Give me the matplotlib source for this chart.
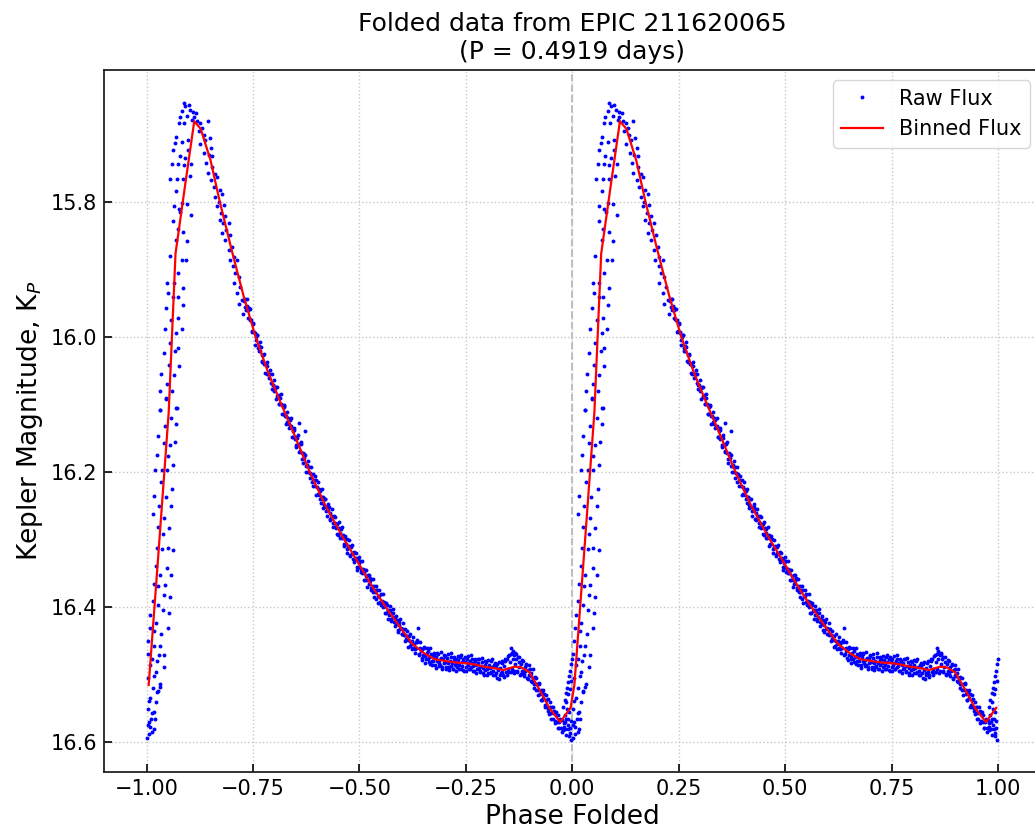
import numpy as np
import matplotlib
matplotlib.use("Agg")
import matplotlib.pyplot as plt

# ---------------- data (phase in [0, 1), Kepler magnitude) ----------------
# rising branch near phase 0
rise_points = [
    (0.0455, 16.091), (0.0306, 16.108), (0.0698, 16.105), (0.0573, 16.121), (0.0424, 16.132),
    (0.0690, 16.130), (0.0259, 16.147), (0.0400, 16.157), (0.0541, 16.161), (0.0659, 16.156),
    (0.0235, 16.175), (0.0494, 16.177), (0.0620, 16.190), (0.0204, 16.198), (0.0361, 16.198),
    (0.0478, 16.197), (0.0329, 16.215), (0.0596, 16.226), (0.0165, 16.236), (0.0447, 16.238),
    (0.0282, 16.251), (0.0573, 16.251), (0.0141, 16.263), (0.0416, 16.268), (0.0259, 16.282),
    (0.0525, 16.284), (0.0384, 16.293), (0.0235, 16.313), (0.0361, 16.315), (0.0494, 16.313),
    (0.0620, 16.316), (0.0212, 16.340), (0.0478, 16.343), (0.0306, 16.353), (0.0573, 16.353),
    (0.0165, 16.366), (0.0424, 16.368), (0.0275, 16.370), (0.0400, 16.383), (0.0541, 16.385),
    (0.0141, 16.392), (0.0259, 16.398), (0.0376, 16.405), (0.0518, 16.409), (0.0086, 16.413),
    (0.0212, 16.424), (0.0180, 16.436), (0.0337, 16.440), (0.0071, 16.432), (0.0494, 16.431),
    (0.0039, 16.451), (0.0173, 16.459), (0.0306, 16.458), (0.0024, 16.470), (0.0282, 16.471),
    (0.0416, 16.471), (0.0125, 16.477), (0.0235, 16.481), (0.0086, 16.486), (0.0400, 16.489),
    (0.0212, 16.497), (0.0039, 16.506), (0.0180, 16.503), (0.0322, 16.515), (0.0141, 16.520),
    (0.0306, 16.519), (0.0259, 16.525), (0.0243, 16.527), (0.0086, 16.535), (0.0047, 16.540),
    (0.0212, 16.542), (0.0024, 16.552), (0.0165, 16.556), (0.0125, 16.558), (0.0188, 16.566),
    (0.0102, 16.566), (0.0047, 16.571), (0.0024, 16.576), (0.0071, 16.578), (0.0165, 16.582),
    (0.0125, 16.585), (0.0063, 16.588), (0.0008, 16.595),
]

# maximum light region
peak_points = [
    (0.0306, 16.108), (0.0455, 16.092), (0.0714, 16.105), (0.0322, 16.080), (0.0478, 16.070),
    (0.0596, 16.080), (0.0635, 16.057), (0.0337, 16.055), (0.0518, 16.042), (0.0753, 16.044),
    (0.0400, 16.025), (0.0675, 16.021), (0.0541, 16.010), (0.0737, 16.017), (0.0424, 15.989),
    (0.0827, 15.989), (0.0698, 15.995), (0.0573, 15.976), (0.0729, 15.973), (0.0455, 15.958),
    (0.0847, 15.953), (0.0620, 15.942), (0.0729, 15.942), (0.0502, 15.936), (0.0478, 15.921),
    (0.0635, 15.921), (0.0863, 15.928), (0.0737, 15.906), (0.0933, 15.886), (0.0824, 15.887),
    (0.0541, 15.881), (0.0698, 15.857), (0.0867, 15.845), (0.0957, 15.858), (0.0729, 15.841),
    (0.0620, 15.828), (0.1043, 15.820), (0.0792, 15.816), (0.0949, 15.803), (0.0635, 15.806),
    (0.0753, 15.811), (0.0831, 15.802), (0.0690, 15.784), (0.0855, 15.767), (0.0557, 15.767),
    (0.0714, 15.767), (0.1012, 15.762), (0.0871, 15.746), (0.0596, 15.744), (0.0737, 15.744),
    (0.1043, 15.744), (0.0776, 15.732), (0.0910, 15.736), (0.0620, 15.724), (0.0973, 15.724),
    (0.0831, 15.711), (0.0675, 15.713), (0.0698, 15.704), (0.0973, 15.709), (0.0753, 15.684),
    (0.0886, 15.683), (0.0949, 15.673), (0.0776, 15.675), (0.0831, 15.665), (0.0871, 15.654),
    (0.0910, 15.659), (0.0988, 15.657), (0.1027, 15.664), (0.1090, 15.667), (0.1106, 15.674),
    (0.1169, 15.669), (0.1067, 15.679), (0.1184, 15.681), (0.1263, 15.684), (0.1302, 15.691),
    (0.1435, 15.681), (0.1224, 15.696), (0.1341, 15.701), (0.1380, 15.709), (0.1482, 15.706),
    (0.1263, 15.714), (0.1514, 15.721), (0.1357, 15.728), (0.1459, 15.731), (0.1538, 15.733),
    (0.1404, 15.743), (0.1537, 15.748), (0.1435, 15.758), (0.1616, 15.759), (0.1655, 15.763),
    (0.1514, 15.768), (0.1576, 15.778), (0.1718, 15.783), (0.1773, 15.788), (0.1616, 15.793),
    (0.1694, 15.800), (0.1812, 15.805), (0.1655, 15.807), (0.1749, 15.817), (0.1851, 15.821),
    (0.1718, 15.827), (0.1796, 15.832), (0.1929, 15.832), (0.1875, 15.842), (0.1773, 15.847),
    (0.1969, 15.850), (0.1851, 15.857), (0.2008, 15.867), (0.1929, 15.872), (0.2047, 15.882),
    (0.1953, 15.887), (0.2126, 15.887), (0.2031, 15.896), (0.2086, 15.906), (0.2165, 15.911),
    (0.2047, 15.921), (0.2204, 15.926), (0.2126, 15.936), (0.2243, 15.946), (0.2165, 15.951),
    (0.2267, 15.966),
]

# declining branch
decline_points = [
    (0.230, 15.947), (0.232, 15.944), (0.234, 15.960), (0.236, 15.955), (0.238, 15.961),
    (0.240, 15.958), (0.242, 15.974), (0.244, 15.975), (0.246, 15.975), (0.248, 15.992),
    (0.250, 15.981), (0.252, 15.993), (0.254, 15.995), (0.256, 16.005), (0.258, 16.001),
    (0.260, 15.998), (0.262, 16.017), (0.264, 16.014), (0.266, 16.021), (0.268, 16.015),
    (0.270, 16.036), (0.272, 16.027), (0.274, 16.027), (0.276, 16.040), (0.278, 16.040),
    (0.280, 16.040), (0.282, 16.055), (0.284, 16.044), (0.286, 16.056), (0.288, 16.056),
    (0.290, 16.056), (0.292, 16.069), (0.294, 16.056), (0.296, 16.072), (0.298, 16.072),
    (0.300, 16.080), (0.302, 16.076), (0.304, 16.074), (0.306, 16.088), (0.308, 16.089),
    (0.310, 16.087), (0.312, 16.100), (0.314, 16.091), (0.316, 16.100), (0.318, 16.101),
    (0.320, 16.114), (0.322, 16.104), (0.324, 16.103), (0.326, 16.117), (0.328, 16.117),
    (0.330, 16.126), (0.332, 16.121), (0.334, 16.130), (0.336, 16.123), (0.338, 16.134),
    (0.340, 16.132), (0.342, 16.148), (0.344, 16.140), (0.346, 16.139), (0.348, 16.152),
    (0.350, 16.148), (0.352, 16.160), (0.354, 16.150), (0.356, 16.160), (0.358, 16.159),
    (0.360, 16.169), (0.362, 16.159), (0.364, 16.173), (0.366, 16.182), (0.368, 16.173),
    (0.370, 16.180), (0.372, 16.176), (0.374, 16.191), (0.376, 16.192), (0.378, 16.190),
    (0.380, 16.201), (0.382, 16.193), (0.384, 16.202), (0.386, 16.203), (0.388, 16.216),
    (0.390, 16.203), (0.392, 16.214), (0.394, 16.212), (0.396, 16.221), (0.398, 16.212),
    (0.400, 16.223), (0.402, 16.233), (0.404, 16.226), (0.406, 16.234), (0.408, 16.229),
    (0.410, 16.247), (0.412, 16.238), (0.414, 16.238), (0.416, 16.250), (0.418, 16.240),
    (0.420, 16.252), (0.422, 16.258), (0.424, 16.252), (0.426, 16.257), (0.428, 16.253),
    (0.430, 16.270), (0.432, 16.262), (0.434, 16.269), (0.436, 16.265), (0.438, 16.276),
    (0.440, 16.265), (0.442, 16.276), (0.444, 16.284), (0.446, 16.279), (0.448, 16.277),
    (0.450, 16.294), (0.452, 16.284), (0.454, 16.291), (0.456, 16.285), (0.458, 16.298),
    (0.460, 16.296), (0.462, 16.294), (0.464, 16.307), (0.466, 16.300), (0.468, 16.307),
    (0.470, 16.300), (0.472, 16.314), (0.474, 16.312), (0.476, 16.310), (0.478, 16.323),
    (0.480, 16.312), (0.482, 16.321), (0.484, 16.320), (0.486, 16.329), (0.488, 16.319),
    (0.490, 16.331), (0.492, 16.328), (0.494, 16.342), (0.496, 16.330), (0.498, 16.336),
    (0.500, 16.342), (0.502, 16.333), (0.504, 16.344), (0.506, 16.350), (0.508, 16.344),
    (0.510, 16.350), (0.512, 16.346), (0.514, 16.361), (0.516, 16.354), (0.518, 16.360),
    (0.520, 16.353), (0.522, 16.366), (0.524, 16.362), (0.526, 16.358), (0.528, 16.372),
    (0.530, 16.370), (0.532, 16.379), (0.534, 16.370), (0.536, 16.378), (0.538, 16.375),
    (0.540, 16.389), (0.542, 16.376), (0.544, 16.384), (0.546, 16.384), (0.548, 16.393),
    (0.550, 16.382), (0.552, 16.394), (0.554, 16.391), (0.556, 16.400), (0.558, 16.393),
    (0.560, 16.399), (0.562, 16.409), (0.564, 16.397), (0.566, 16.406), (0.568, 16.405),
    (0.570, 16.412), (0.572, 16.405), (0.574, 16.418), (0.576, 16.410), (0.578, 16.416),
    (0.580, 16.409), (0.582, 16.423), (0.584, 16.418), (0.586, 16.425), (0.588, 16.420),
    (0.590, 16.435), (0.592, 16.427), (0.594, 16.423), (0.596, 16.433), (0.598, 16.432),
    (0.600, 16.440), (0.602, 16.433), (0.604, 16.442), (0.606, 16.433), (0.608, 16.442),
    (0.610, 16.448), (0.612, 16.443), (0.614, 16.449), (0.616, 16.443), (0.618, 16.458),
    (0.620, 16.451), (0.622, 16.455), (0.624, 16.451), (0.626, 16.462), (0.628, 16.455),
    (0.358, 16.128), (0.373, 16.140), (0.638, 16.431),
]

# declining branch, points at the edges of the band
decline_edge_points = [
    (0.231, 15.956), (0.235, 15.944), (0.239, 15.972), (0.243, 15.959), (0.247, 15.993),
    (0.251, 15.980), (0.255, 16.012), (0.259, 15.998), (0.263, 16.022), (0.267, 16.008),
    (0.271, 16.038), (0.275, 16.026), (0.279, 16.054), (0.283, 16.038), (0.287, 16.062),
    (0.291, 16.049), (0.295, 16.077), (0.299, 16.064), (0.303, 16.092), (0.307, 16.075),
    (0.311, 16.100), (0.315, 16.085), (0.319, 16.115), (0.323, 16.102), (0.327, 16.130),
    (0.331, 16.112), (0.335, 16.136), (0.339, 16.121), (0.343, 16.149), (0.347, 16.136),
    (0.351, 16.163), (0.355, 16.146), (0.359, 16.171), (0.363, 16.156), (0.367, 16.187),
    (0.371, 16.174), (0.375, 16.201), (0.379, 16.184), (0.383, 16.209), (0.387, 16.193),
    (0.391, 16.221), (0.395, 16.207), (0.399, 16.234), (0.403, 16.216), (0.407, 16.240),
    (0.411, 16.225), (0.415, 16.254), (0.419, 16.241), (0.423, 16.266), (0.427, 16.248),
    (0.431, 16.272), (0.435, 16.255), (0.439, 16.282), (0.443, 16.267), (0.447, 16.293),
    (0.451, 16.275), (0.455, 16.298), (0.459, 16.282), (0.463, 16.310), (0.467, 16.295),
    (0.471, 16.321), (0.475, 16.302), (0.479, 16.325), (0.483, 16.308), (0.487, 16.334),
    (0.491, 16.320), (0.495, 16.345), (0.499, 16.326), (0.503, 16.349), (0.507, 16.332),
    (0.511, 16.361), (0.515, 16.346), (0.519, 16.371), (0.523, 16.353), (0.527, 16.376),
    (0.531, 16.359), (0.535, 16.385), (0.539, 16.370), (0.543, 16.394), (0.547, 16.375),
    (0.551, 16.398), (0.555, 16.381), (0.559, 16.409), (0.563, 16.394), (0.567, 16.418),
    (0.571, 16.399), (0.575, 16.421), (0.579, 16.404), (0.583, 16.429), (0.587, 16.414),
    (0.591, 16.438), (0.595, 16.419), (0.599, 16.441), (0.603, 16.424), (0.607, 16.451),
    (0.611, 16.436), (0.615, 16.460), (0.619, 16.441), (0.623, 16.463), (0.627, 16.445),
]

# plateau and descent to minimum
plateau_points = [
    (0.630, 16.463), (0.632, 16.453), (0.634, 16.462), (0.636, 16.452), (0.640, 16.470),
    (0.642, 16.461), (0.644, 16.465), (0.646, 16.476), (0.648, 16.463), (0.650, 16.472),
    (0.652, 16.462), (0.654, 16.473), (0.656, 16.478), (0.658, 16.469), (0.660, 16.477),
    (0.662, 16.465), (0.664, 16.474), (0.666, 16.485), (0.668, 16.470), (0.670, 16.481),
    (0.672, 16.475), (0.674, 16.480), (0.676, 16.472), (0.678, 16.487), (0.680, 16.475),
    (0.682, 16.481), (0.684, 16.470), (0.686, 16.484), (0.688, 16.479), (0.690, 16.486),
    (0.692, 16.476), (0.694, 16.492), (0.696, 16.478), (0.698, 16.484), (0.700, 16.473),
    (0.702, 16.482), (0.704, 16.489), (0.706, 16.476), (0.708, 16.484), (0.710, 16.494),
    (0.712, 16.480), (0.714, 16.488), (0.716, 16.474), (0.718, 16.484), (0.720, 16.492),
    (0.722, 16.479), (0.724, 16.487), (0.726, 16.477), (0.728, 16.483), (0.730, 16.490),
    (0.732, 16.479), (0.734, 16.486), (0.736, 16.474), (0.738, 16.492), (0.740, 16.482),
    (0.742, 16.488), (0.744, 16.478), (0.746, 16.495), (0.748, 16.482), (0.750, 16.490),
    (0.752, 16.477), (0.754, 16.486), (0.756, 16.484), (0.758, 16.493), (0.760, 16.481),
    (0.762, 16.490), (0.764, 16.477), (0.766, 16.488), (0.768, 16.483), (0.770, 16.496),
    (0.772, 16.481), (0.774, 16.487), (0.776, 16.492), (0.778, 16.484), (0.780, 16.491),
    (0.782, 16.477), (0.784, 16.495), (0.786, 16.488), (0.788, 16.482), (0.790, 16.491),
    (0.792, 16.501), (0.794, 16.487), (0.796, 16.494), (0.798, 16.482), (0.800, 16.492),
    (0.802, 16.499), (0.804, 16.486), (0.806, 16.491), (0.808, 16.481), (0.810, 16.497),
    (0.812, 16.490), (0.814, 16.495), (0.816, 16.486), (0.818, 16.502), (0.820, 16.489),
    (0.822, 16.499), (0.824, 16.485), (0.826, 16.494), (0.828, 16.507), (0.830, 16.491),
    (0.832, 16.498), (0.834, 16.483), (0.836, 16.497), (0.838, 16.502), (0.840, 16.488),
    (0.842, 16.481), (0.844, 16.497), (0.846, 16.477), (0.848, 16.493), (0.850, 16.473),
    (0.852, 16.497), (0.854, 16.482), (0.856, 16.470), (0.858, 16.493), (0.860, 16.477),
    (0.862, 16.498), (0.864, 16.472), (0.866, 16.485), (0.868, 16.478), (0.870, 16.496),
    (0.872, 16.475), (0.874, 16.490), (0.876, 16.482), (0.878, 16.502), (0.880, 16.485),
    (0.882, 16.495), (0.884, 16.481), (0.886, 16.500), (0.888, 16.490), (0.890, 16.496),
    (0.892, 16.487), (0.894, 16.505), (0.896, 16.494), (0.898, 16.501), (0.900, 16.492),
    (0.902, 16.503), (0.904, 16.498), (0.906, 16.512), (0.908, 16.505), (0.910, 16.515),
    (0.912, 16.504), (0.914, 16.515), (0.916, 16.524), (0.918, 16.514), (0.920, 16.524),
    (0.922, 16.514), (0.924, 16.530), (0.926, 16.524), (0.928, 16.539), (0.930, 16.526),
    (0.932, 16.536), (0.934, 16.530), (0.936, 16.545), (0.938, 16.539), (0.940, 16.548),
    (0.942, 16.537), (0.944, 16.550), (0.946, 16.559), (0.948, 16.548), (0.950, 16.557),
    (0.952, 16.548), (0.954, 16.567), (0.956, 16.558), (0.958, 16.555), (0.960, 16.569),
    (0.962, 16.560), (0.964, 16.571), (0.966, 16.560), (0.968, 16.580), (0.970, 16.571),
    (0.972, 16.567), (0.974, 16.580), (0.976, 16.568), (0.978, 16.583), (0.980, 16.572),
    (0.982, 16.560), (0.984, 16.582), (0.986, 16.566), (0.988, 16.551), (0.990, 16.582),
    (0.992, 16.556), (0.994, 16.587), (0.856, 16.462), (0.860, 16.466), (0.866, 16.468),
]

# plateau, points at the edges of the band
plateau_edge_points = [
    (0.631, 16.469), (0.635, 16.450), (0.639, 16.471), (0.643, 16.453), (0.647, 16.479),
    (0.651, 16.460), (0.655, 16.483), (0.659, 16.462), (0.663, 16.482), (0.667, 16.462),
    (0.671, 16.487), (0.675, 16.469), (0.679, 16.491), (0.683, 16.469), (0.687, 16.488),
    (0.691, 16.467), (0.695, 16.490), (0.699, 16.471), (0.703, 16.493), (0.707, 16.470),
    (0.711, 16.489), (0.715, 16.469), (0.719, 16.493), (0.723, 16.474), (0.727, 16.496),
    (0.731, 16.473), (0.735, 16.492), (0.739, 16.471), (0.743, 16.494), (0.747, 16.475),
    (0.751, 16.496), (0.755, 16.473), (0.759, 16.493), (0.763, 16.472), (0.767, 16.496),
    (0.771, 16.478), (0.775, 16.499), (0.779, 16.477), (0.783, 16.497), (0.787, 16.476),
    (0.791, 16.499), (0.795, 16.480), (0.799, 16.502), (0.803, 16.479), (0.807, 16.498),
    (0.811, 16.478), (0.815, 16.502), (0.819, 16.483), (0.823, 16.505), (0.827, 16.482),
    (0.831, 16.502), (0.835, 16.481), (0.839, 16.504), (0.843, 16.477), (0.847, 16.501),
    (0.851, 16.471), (0.855, 16.497), (0.859, 16.468), (0.863, 16.495), (0.867, 16.470),
    (0.871, 16.497), (0.875, 16.475), (0.879, 16.500), (0.883, 16.479), (0.887, 16.503),
    (0.891, 16.485), (0.895, 16.507), (0.899, 16.486), (0.903, 16.510), (0.907, 16.493),
    (0.911, 16.521), (0.915, 16.505), (0.919, 16.531), (0.923, 16.513), (0.927, 16.539),
    (0.931, 16.523), (0.935, 16.549), (0.939, 16.531), (0.943, 16.555), (0.947, 16.541),
    (0.951, 16.566), (0.955, 16.548), (0.959, 16.572), (0.963, 16.556), (0.967, 16.580),
]

# points around minimum light, just before phase 1
minimum_points = [
    (0.978, 16.548), (0.982, 16.538), (0.985, 16.528), (0.988, 16.520), (0.991, 16.512),
    (0.993, 16.503), (0.995, 16.495), (0.997, 16.485), (0.999, 16.478), (0.986, 16.542),
    (0.990, 16.530), (0.994, 16.522), (0.997, 16.510), (0.975, 16.585), (0.980, 16.578),
    (0.985, 16.590), (0.989, 16.575), (0.992, 16.592), (0.995, 16.580), (0.998, 16.598),
    (0.983, 16.571), (0.991, 16.566), (0.996, 16.570),
]

# binned light curve
bin_phase = [0.005, 0.028, 0.052, 0.068, 0.090, 0.112, 0.127, 0.150, 0.172, 0.200,
             0.228, 0.256, 0.285, 0.315, 0.345, 0.383, 0.420, 0.460, 0.500, 0.530,
             0.561, 0.595, 0.624, 0.652, 0.677, 0.707, 0.730, 0.754, 0.773, 0.793,
             0.816, 0.838, 0.864, 0.880, 0.899, 0.915, 0.930, 0.946, 0.962, 0.972,
             0.996]
bin_mag = [16.516, 16.320, 16.112, 15.877, 15.778, 15.681, 15.692, 15.738, 15.800, 15.872,
           15.940, 16.000, 16.052, 16.098, 16.142, 16.200, 16.250, 16.296, 16.338, 16.370,
           16.400, 16.430, 16.455, 16.469, 16.478, 16.481, 16.483, 16.484, 16.486, 16.489,
           16.491, 16.494, 16.489, 16.490, 16.497, 16.514, 16.531, 16.550, 16.563, 16.571,
           16.550]

x_ticks = [-1.00, -0.75, -0.50, -0.25, 0.00, 0.25, 0.50, 0.75, 1.00]
y_ticks = [15.8, 16.0, 16.2, 16.4, 16.6]

# ---------------- plotting ----------------
all_points = (rise_points + peak_points + decline_points + decline_edge_points
              + plateau_points + plateau_edge_points + minimum_points)
raw_phase = np.array([p for p, m in all_points])
raw_mag = np.array([m for p, m in all_points])
bp = np.array(bin_phase)
bm = np.array(bin_mag)

fig = plt.figure(figsize=(10.35, 8.32), dpi=100)
ax = fig.add_axes([104 / 1035, 60 / 832, 936.5 / 1035, 702 / 832])

ax.grid(True, linestyle=':', color='#c8c8c8', linewidth=1.0, zorder=0)
ax.axvline(0, color='#bbbbbb', linestyle='--', linewidth=1.4, zorder=1)

ax.plot(np.concatenate([raw_phase - 1, raw_phase]), np.concatenate([raw_mag, raw_mag]),
        'o', color='blue', markersize=2.8, markeredgewidth=0, linestyle='none',
        label='Raw Flux', zorder=2)
ax.plot(np.concatenate([bp - 1, bp]), np.concatenate([bm, bm]),
        color='red', linewidth=1.6, label='Binned Flux', zorder=3)

ax.set_xlim(-1.1, 1.1)
ax.set_ylim(16.645, 15.605)
ax.set_xticks(x_ticks)
ax.set_yticks(y_ticks)
ax.tick_params(direction='in', length=6, width=1.2, labelsize=15, pad=5)
for s in ax.spines.values():
    s.set_linewidth(1.3)
    s.set_color('#222222')

ax.set_xlabel('Phase Folded', fontsize=19)
ax.set_ylabel('Kepler Magnitude, K$_P$', fontsize=19)
ax.set_title('Folded data from EPIC 211620065\n(P = 0.4919 days)', fontsize=18, pad=8)

leg = ax.legend(loc='upper right', fontsize=15, numpoints=1)

fig.savefig('out.png', dpi=100)
